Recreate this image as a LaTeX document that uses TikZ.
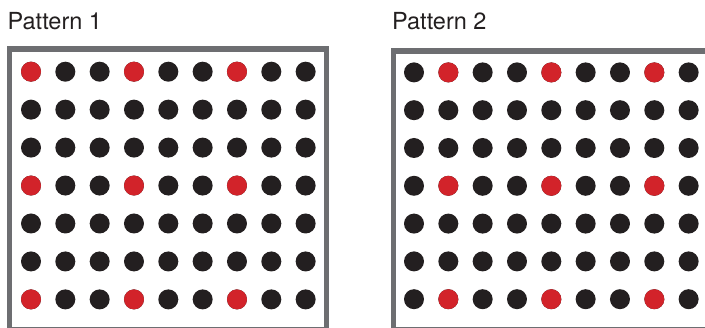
\documentclass[tikz,border=0pt]{standalone}
\usepackage{fontspec}
\setmainfont{TeX Gyre Heros}
\usepackage{xcolor}
\usepackage{tikz}
\usetikzlibrary{positioning}

\definecolor{dotblack}{HTML}{231F20}
\definecolor{dotred}{HTML}{D2232A}
\definecolor{framegray}{HTML}{6D6E71}

\begin{document}
\begin{tikzpicture}[x=1pt, y=-1pt,
    panelframe/.style={draw=framegray, line width=5.5pt},
    paneltitle/.style={anchor=base west, inner sep=0pt, text=dotblack,
        font=\fontsize{23.5}{28}\selectfont},
    blackdot/.style={fill=dotblack},
    reddot/.style={fill=dotred}]

    \useasboundingbox (0,0) rectangle (705,328);
    \clip (0,0) rectangle (705,328);

    % Titles
    \node[paneltitle] (title_one) at (7.5,29.3) {Pattern 1};
    \node[paneltitle] (title_two) at (392,29.3) {Pattern 2};

    % Frames
    \draw[panelframe] (9.5,49) rectangle (326.5,329.5);
    \draw[panelframe] (393.3,51.2) rectangle (710.5,329.5);

    % Pattern 1 dots
    \begin{scope}[shift={(31,71.7)}]
        \foreach \row in {0,...,6}
            \foreach \col in {0,...,8}
                \fill[blackdot] (\col*34.33,\row*37.95) circle (10);
        \foreach \row in {0,3,6}
            \foreach \col in {0,3,6}
                \fill[reddot] (\col*34.33,\row*37.95) circle (10);
    \end{scope}

    % Pattern 2 dots
    \begin{scope}[shift={(414,72.4)}]
        \foreach \row in {0,...,6}
            \foreach \col in {0,...,8}
                \fill[blackdot] (\col*34.33,\row*37.8) circle (10);
        \foreach \row in {0,3,6}
            \foreach \col in {1,4,7}
                \fill[reddot] (\col*34.33,\row*37.8) circle (10);
    \end{scope}

\end{tikzpicture}
\end{document}
